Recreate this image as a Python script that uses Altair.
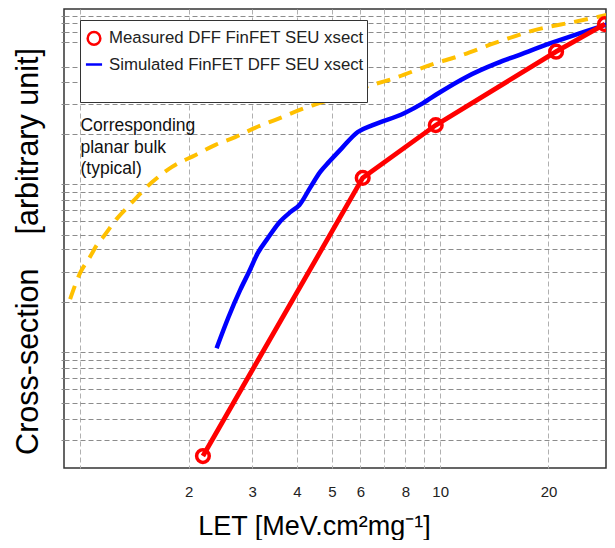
import altair as alt
import pandas as pd

M = "Measured DFF FinFET SEU xsect"
S = "Simulated FinFET DFF SEU xsect"
P = "Planar bulk"

# Measured DFF FinFET SEU cross-section (LET, arbitrary unit)
meas_let = [2.19, 6.09, 9.72, 21.0, 28.7]
meas_xs = [2.6, 63.2, 74.7, 90.7, 96.7]

# Simulated FinFET DFF SEU cross-section
sim_let = [2.39, 2.58, 2.78, 2.94, 3.11, 3.32, 3.58, 3.84, 4.06, 4.36, 4.64, 4.91,
           5.33, 5.90, 6.49, 7.94, 8.96, 9.91, 11.83, 14.39, 16.33, 20.38, 24.17, 29.26]
sim_xs = [26.1, 32.9, 38.8, 42.7, 46.8, 50.1, 53.6, 55.8, 57.3, 61.2, 64.5, 66.7,
          69.7, 73.2, 74.7, 77.3, 79.5, 81.7, 85.2, 88.2, 89.8, 92.6, 94.6, 96.7]

# Corresponding planar bulk (typical)
bulk_let = [0.936, 0.998, 1.063, 1.111, 1.161, 1.268, 1.343, 1.583, 1.797, 2.09, 2.373, 2.693,
            3.056, 3.469, 4.194, 4.70, 6.05, 7.18, 9.72, 11.04, 14.21, 18.31, 23.58, 29.05]
bulk_xs = [36.8, 42.5, 46.0, 48.6, 50.5, 54.5, 56.6, 62.3, 65.6, 68.2, 70.4, 72.1,
           74.1, 75.8, 78.4, 79.7, 82.8, 84.5, 88.2, 89.5, 92.6, 95.4, 97.2, 98.7]

x_grid = [1, 2, 3, 4, 5, 6, 7, 8, 9, 10, 20]
x_labels = [2, 3, 4, 5, 6, 8, 10, 20]
y_grid = [6.1, 10.7, 14.2, 17.2, 19.6, 21.8, 23.5, 25.3, 36.2, 42.7, 47.7, 50.8, 53.8,
          56.2, 58.4, 60.1, 61.9, 72.8, 79.3, 84.1, 87.4, 92.8, 95.0, 96.9, 98.5]

note_text = "Corresponding\nplanar bulk\n(typical)"
note_let = [1.0]
note_xs = [73.4]

FONT = "Liberation Sans"
RED, BLUE, GOLD = "#ff0000", "#0000ff", "#ffc000"

meas_df = pd.DataFrame({"let": meas_let, "xs": meas_xs, "series": M})
sim_df = pd.DataFrame({"let": sim_let, "xs": sim_xs, "series": S})
bulk_df = pd.DataFrame({"let": bulk_let, "xs": bulk_xs, "series": P})
note_df = pd.DataFrame({"let": note_let, "xs": note_xs, "text": [note_text]})

lbl = ",".join(str(v) for v in x_labels)

x_enc = alt.X(
    "let:Q",
    scale=alt.Scale(type="log", domain=[0.9, 28.9], nice=False),
    axis=alt.Axis(
        values=x_grid, tickCount=100,
        format="d",
        labelExpr=f"indexof([{lbl}], datum.value) >= 0 ? datum.label : ''",
        grid=True, gridColor="#b0b0b0", gridDash=[5, 3], gridWidth=1,
        ticks=False, domain=False,
        labelFont=FONT, labelFontSize=15, labelColor="#222", labelPadding=16,
        labelBaseline="top",
        title="LET [MeV.cm²mg⁻¹]",
        titleFont=FONT, titleFontSize=27, titleFontWeight="normal", titleColor="#000",
        titleX=250, titleY=66, titleAlign="center", titleBaseline="alphabetic",
    ),
)
y_enc = alt.Y(
    "xs:Q",
    scale=alt.Scale(domain=[0, 100], nice=False, zero=False),
    axis=alt.Axis(
        values=y_grid, tickCount=100,
        labels=False,
        grid=True, gridColor="#8c8c8c", gridDash=[5, 3], gridWidth=1,
        ticks=True, tickSize=4, tickColor="#8c8c8c", tickDash=[3, 2],
        domain=False,
        title="Cross-section\u00a0\u00a0\u00a0\u00a0[arbitrary unit]",
        titleFont=FONT, titleFontSize=30.5, titleFontWeight="normal", titleColor="#000",
        titleX=-27, titleY=242, titleAlign="center", titleBaseline="alphabetic",
        titleAngle=270,
    ),
)

legend = alt.Legend(
    orient="none", legendX=16, legendY=11,
    title="\u00a0", titleFontSize=5, titlePadding=2,
    padding=3, fillColor="white", strokeColor="#333",
    labelFont=FONT, labelFontSize=16.8, labelColor="#222", labelLimit=400,
    labelOffset=4, rowPadding=5, symbolStrokeWidth=2.5,
    labelExpr=f"datum.value === '{P}' ? '' : datum.label",
)
dom = [M, S, P]
color_enc = alt.Color("series:N", scale=alt.Scale(domain=dom, range=[RED, BLUE, "rgba(0,0,0,0)"]), legend=legend)
shape_enc = alt.Shape("series:N", scale=alt.Scale(domain=dom, range=["circle", "stroke", "stroke"]), legend=legend)
size_enc = alt.Size("series:N", scale=alt.Scale(domain=dom, range=[160, 361, 0]), legend=legend)

bulk = alt.Chart(bulk_df).mark_line(
    color=GOLD, strokeWidth=4, strokeDash=[14, 9], interpolate="monotone", clip=True
).encode(x=x_enc, y=y_enc)

sim = alt.Chart(sim_df).mark_line(
    strokeWidth=4.5, interpolate="monotone", clip=True
).encode(x="let:Q", y="xs:Q", color=color_enc)

meas_line = alt.Chart(meas_df).mark_line(
    color=RED, strokeWidth=4.8, clip=True
).encode(x="let:Q", y="xs:Q")

meas_pts = alt.Chart(meas_df).mark_point(
    filled=False, strokeWidth=3.5, opacity=1, clip=True
).encode(x="let:Q", y="xs:Q", color=color_enc, shape=shape_enc, size=size_enc)

note = alt.Chart(note_df).mark_text(
    align="left", baseline="alphabetic", lineBreak="\n", lineHeight=21.5,
    font=FONT, fontSize=17.5, color="#111"
).encode(x="let:Q", y="xs:Q", text="text:N")

chart = alt.layer(bulk, sim, meas_line, meas_pts, note).properties(
    width=542, height=459,
    padding={"left": 56, "top": 1, "right": 1, "bottom": 72},
    autosize=alt.AutoSizeParams(type="none"),
    background="white",
).configure_view(stroke="#333", strokeWidth=1.5, fill="white")

chart.save("out.html", embed_options={"renderer": "svg", "actions": False})
